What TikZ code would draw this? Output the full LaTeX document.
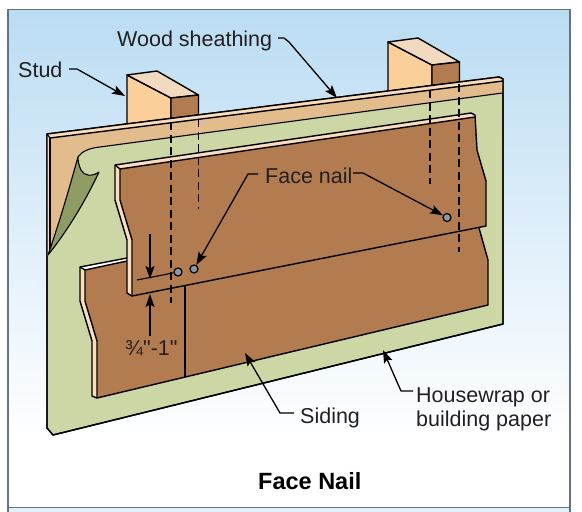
\documentclass[tikz,border=0pt]{standalone}
\usepackage{fontspec}
\setmainfont{Liberation Sans}
\newfontfamily\plainfont{Liberation Sans}
\usetikzlibrary{arrows.meta}
\definecolor{skytop}{HTML}{BADCF3}
\definecolor{skymid}{HTML}{E2F0FA}
\definecolor{ink}{HTML}{231F20}
\definecolor{peach}{HTML}{FBCF99}
\definecolor{toppale}{HTML}{F1DAC0}
\definecolor{brown}{HTML}{B27C50}
\definecolor{sheath}{HTML}{E3BC8E}
\definecolor{stripe}{HTML}{FADDBD}
\definecolor{wrap}{HTML}{CDD6A5}
\definecolor{wrapdark}{HTML}{8E9C64}
\definecolor{nailgrey}{HTML}{8C97A8}
\definecolor{framegrey}{HTML}{66727C}
\tikzset{
  outline/.style={draw=black,line width=1.4pt,line join=round},
  hair/.style={draw=black,line width=1.1pt,line join=round},
  hiddenline/.style={draw=black,line width=1.5pt,dash pattern=on 8pt off 4.5pt},
  leader/.style={draw=black,line width=1.3pt,line join=round,-{Stealth[length=13pt,width=9pt,inset=2.5pt]}},
  lbl/.style={font=\fontsize{21.5}{25}\selectfont,text=ink,inner sep=0pt,anchor=base west},
  nailhead/.style={circle,draw=black,line width=1.2pt,fill=nailgrey,minimum size=8pt,inner sep=0pt},
}
\begin{document}
\begin{tikzpicture}[x=1pt,y=-1pt]
\useasboundingbox (0,0) rectangle (582,512);
% background
\fill[white] (0,0) rectangle (582,512);
\fill[top color=skytop,bottom color=skymid] (8,9.5) rectangle (570,250);
\fill[top color=skymid,bottom color=white] (8,250) rectangle (570,440);
\fill[skymid] (8,508) rectangle (570,512);
\draw[framegrey,line width=1.3pt] (8,512) -- (8,9.5) -- (570,9.5) -- (570,512);
\draw[framegrey,line width=1.3pt] (8,507.5) -- (570,507.5);
% studs
\foreach \dx/\dy in {0/0,261/-33}{
  \begin{scope}[shift={(\dx,\dy)}]
  \filldraw[fill=peach,outline] (127,75) -- (171,98) -- (171,125) -- (127,130) -- cycle;
  \filldraw[fill=toppale,outline] (127,75) -- (157,71) -- (198.5,95) -- (171,98) -- cycle;
  \filldraw[fill=brown,outline] (171,98) -- (198.5,95) -- (198.5,125) -- (171,125) -- cycle;
  \end{scope}
}
% housewrap and sheathing
\filldraw[fill=wrap,outline] (47,134) -- (499,77) -- (503,79) -- (503,324) -- (53,435) -- (47,428) -- cycle;
\fill[sheath] (47,134) -- (499,77) -- (503,79) -- (502.5,93) -- (100,147)
  .. controls (90,148) and (82,151) .. (78,157) -- (50,252) -- (47,256) -- cycle;
\draw[hair] (502.5,93) -- (100,147) .. controls (90,148) and (82,151) .. (78,157);
\fill[stripe] (47,134) -- (499,77) -- (503,79) -- (503,81) -- (50,138) -- cycle;
\fill[stripe] (47,134) -- (50,138) -- (50,252) -- (47,256) -- cycle;
\draw[outline] (50,138) -- (503,81);
\draw[outline] (47,134) -- (499,77) -- (503,79) -- (503,324) -- (53,435) -- (47,428) -- cycle;
\draw[hair] (50,138) -- (50,252);
\draw[hair] (47,134) -- (50,138);
% peeled corner
\filldraw[fill=wrapdark,hair] (78,157) .. controls (72,178) and (62,215) .. (48,255)
  .. controls (68,230) and (86,200) .. (99,172)
  .. controls (92,177) and (84,176) .. (81,170)
  .. controls (79,166) and (78,161) .. (78,157) -- cycle;
% lower siding
\fill[brown] (85,269) -- (127,260) -- (479,228) -- (488,260) -- (488,305) -- (97,398)
  -- (97,341) -- (85,301) -- cycle;
\fill[stripe] (80,267) -- (85,269) -- (85,301) -- (97,341) -- (97,398) -- (92,396) -- (92,341) -- (80,301) -- cycle;
\fill[white] (80,267) -- (127,258) -- (127,261) -- (85,270) -- cycle;
\draw[outline] (127,258) -- (80,267) -- (80,301) -- (92,341) -- (92,396) -- (97,398) -- (488,305) -- (488,260) -- (479,228);
\draw[outline] (127,261) -- (85,270) -- (85,301) -- (97,341) -- (97,398);
\draw[outline] (80,267) -- (85,270);
\draw[hair] (185,286) -- (185,377);
% upper siding
\fill[brown] (120,169) -- (475,117) -- (477,150) -- (486,181) -- (486,226) -- (132,296) -- (132,240) -- (120,200) -- cycle;
\fill[stripe] (115,165) -- (471,113) -- (475,115) -- (475,117) -- (120,169) -- (120,200) -- (132,240) -- (132,296) -- (127,293) -- (127,240) -- (115,200) -- cycle;
\draw[outline] (132,296) -- (127,293) -- (127,240) -- (115,200) -- (115,165) -- (471,113) -- (475,115) -- (477,150) -- (486,181) -- (486,226) -- cycle;
\draw[outline] (132,296) -- (132,240) -- (120,200) -- (120,169) -- (475,117);
\draw[outline] (115,165) -- (120,169);
% hidden stud edges
\draw[hiddenline] (171,122) -- (171,303);
\draw[hiddenline,line width=1.2pt] (198.5,119) -- (198.5,209);
\draw[hiddenline] (430,90) -- (430,184);
\draw[hiddenline] (459,84) -- (459,252);
% nails
\node[nailhead] (nailA) at (178,272) {};
\node[nailhead] (nailB) at (194,269) {};
\node[nailhead] (nailC) at (447,217.5) {};
% labels
\node[lbl] (wood) at (117,46) {Wood sheathing};
\node[lbl] (stud) at (18,77) {Stud};
\node[lbl] (face) at (265,183) {Face nail};
\node[lbl] (siding) at (300,423) {Siding};
\node[lbl] (wrapA) at (416,402) {Housewrap or};
\node[lbl] (wrapB) at (416,426) {building paper};
\node[lbl] (frac) at (125,355) {\plainfont ¾"-1"};
\node[lbl,font=\fontsize{23.5}{28}\selectfont\bfseries,text=black] (title) at (258,489) {Face Nail};
% leaders
\coordinate (woodS) at (278,38);
\coordinate (woodT) at (337,98);
\coordinate (studS) at (69,69);
\coordinate (studT) at (125,96);
\coordinate (faceL) at (258,174);
\coordinate (faceR) at (353,173);
\coordinate (sidingS) at (294,413);
\coordinate (sidingT) at (245,353);
\coordinate (wrapS) at (413,391);
\coordinate (wrapT) at (383,350);
\draw[leader] (woodS) -- (284,38) -- (289,42) -- (woodT);
\draw[leader] (studS) -- (77,69) -- (studT);
\draw[leader] (faceL) -- (248,174) -- (nailB);
\draw[leader] (faceR) -- (363,173) -- (nailC);
\draw[leader] (sidingS) -- (280,413) -- (sidingT);
\draw[leader] (wrapS) -- (401,391) -- (wrapT);
% dimension
\coordinate (dimL) at (137,280);
\coordinate (dimTop) at (150,234);
\coordinate (dimUpper) at (150,279);
\coordinate (dimStart) at (150,336);
\coordinate (dimLower) at (150,294);
\draw[hair] (dimL) -- (nailA);
\draw[leader] (dimTop) -- (dimUpper);
\draw[leader] (dimStart) -- (dimLower);
\end{tikzpicture}
\end{document}
